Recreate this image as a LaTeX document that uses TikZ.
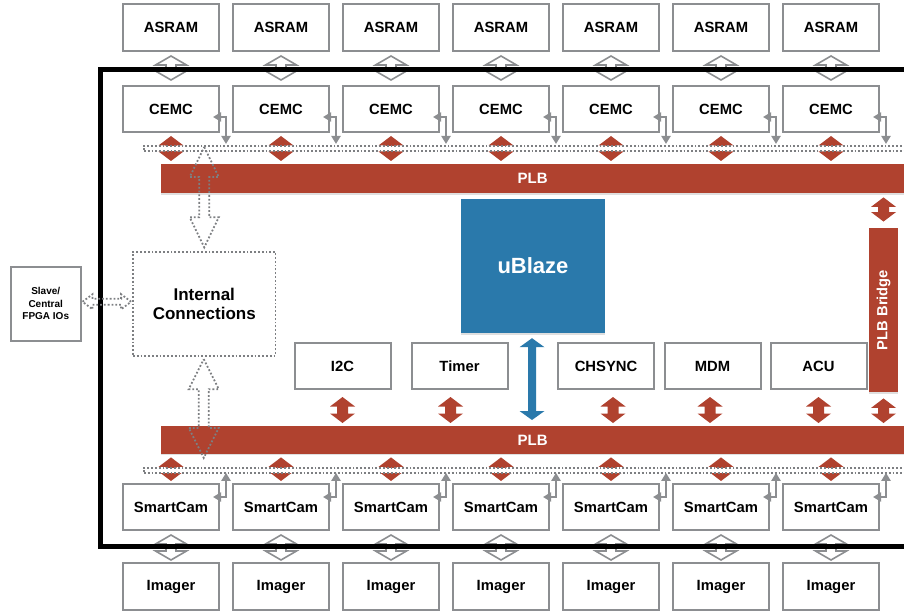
\documentclass[tikz,border=0pt]{standalone}
\usepackage{fontspec}
\setmainfont{Liberation Sans}
\usetikzlibrary{calc,arrows.meta,shadows}
\definecolor{plbred}{RGB}{176,66,47}
\definecolor{ublue}{RGB}{42,121,171}
\definecolor{bgray}{RGB}{140,142,145}
\definecolor{dgray}{RGB}{125,127,130}
\tikzset{
  box/.style={draw=bgray, line width=2pt, fill=white, minimum width=96pt, minimum height=46pt, inner sep=0pt, font=\fontsize{14.8pt}{17pt}\selectfont\bfseries},
  redarr/.style={fill=plbred},
  bluearr/.style={fill=ublue},
  hollowarr/.style={draw=bgray, line width=1.6pt, fill=white, line join=miter},
  dotarr/.style={draw=dgray, line width=1.8pt, dash pattern=on 1.8pt off 2pt},
  dotbox/.style={draw=dgray, line width=1.8pt, dash pattern=on 1.8pt off 2pt, fill=white, inner sep=0pt},
  bus/.style={draw=dgray, line width=1.8pt, dash pattern=on 1.8pt off 2pt, fill=white, inner sep=0pt},
  bar/.style={fill=plbred, draw=none, inner sep=0pt, text=white, font=\fontsize{15pt}{17pt}\selectfont\bfseries, drop shadow={shadow xshift=0pt, shadow yshift=-1.5pt, opacity=0.25}},
  elbow/.style={draw=bgray, line width=2pt, {Triangle[width=9pt,length=8pt]}-{Triangle[width=9pt,length=8pt]}},
}
% vertical double arrow: style, top tip, bottom tip, half shaft, half head, head length
\newcommand\myvarrow[6]{%
  \path[#1] let \p1=(#2), \p2=(#3) in
    (\x1,\y1) -- (\x1+#5,\y1-#6) -- (\x1+#4,\y1-#6) -- (\x1+#4,\y2+#6) -- (\x1+#5,\y2+#6)
    -- (\x1,\y2) -- (\x1-#5,\y2+#6) -- (\x1-#4,\y2+#6) -- (\x1-#4,\y1-#6) -- (\x1-#5,\y1-#6) -- cycle;}
% horizontal double arrow: style, left tip, right tip, half shaft, half head, head length
\newcommand\myharrow[6]{%
  \path[#1] let \p1=(#2), \p2=(#3) in
    (\x1,\y1) -- (\x1+#6,\y1+#5) -- (\x1+#6,\y1+#4) -- (\x2-#6,\y1+#4) -- (\x2-#6,\y1+#5)
    -- (\x2,\y1) -- (\x2-#6,\y1-#5) -- (\x2-#6,\y1-#4) -- (\x1+#6,\y1-#4) -- (\x1+#6,\y1-#5) -- cycle;}
\begin{document}
\begin{tikzpicture}[x=1pt,y=-1pt]
\useasboundingbox (0,0) rectangle (904,612);

% rows of boxes
\foreach \x [count=\i] in {171,281,391,501,611,721,831}{
  \node[box, minimum height=47pt] (asram\i) at (\x,27.5) {ASRAM};
  \node[box] (cemc\i) at (\x,109) {CEMC};
  \node[box] (sc\i) at (\x,507) {SmartCam};
  \node[box, minimum height=47pt] (img\i) at (\x,586.5) {Imager};
}

% hollow arrows crossing the frame
\foreach \i in {1,...,7}{
  \myvarrow{hollowarr}{$(asram\i.south)+(0,4)$}{$(cemc\i.north)+(0,-5)$}{5pt}{15.5pt}{9pt}
  \myvarrow{hollowarr}{$(sc\i.south)+(0,4)$}{$(img\i.north)+(0,-2)$}{5pt}{15.5pt}{9pt}
}

% frame
\draw[line width=4.5pt] (100.5,69.5) rectangle (960,546.5);

% PLB bars
\node[bar, anchor=north west, minimum width=743pt, minimum height=29pt] (plbT) at (161,164) {PLB};
\node[bar, anchor=north west, minimum width=743pt, minimum height=27.5pt] (plbB) at (161,426) {PLB};

% red arrows to CEMC and SmartCam
\foreach \i in {1,...,7}{
  \myvarrow{redarr}{$(cemc\i.south)+(0,3)$}{$(cemc\i.south |- plbT.north)+(0,-3)$}{5.5pt}{12.5pt}{9.5pt}
  \myvarrow{redarr}{$(sc\i.north |- plbB.south)+(0,3.5)$}{$(sc\i.north)+(0,-2)$}{5.5pt}{12.5pt}{9.5pt}
}

% dotted buses
\node[bus, anchor=north west, minimum width=800pt, minimum height=5pt] (busT) at (143,145) {};
\node[bus, anchor=north west, minimum width=800pt, minimum height=5pt] (busB) at (143,467) {};

% elbow connectors
\foreach \i in {1,...,7}{
  \draw[elbow] ($(cemc\i.east)+(-7,8)$) -| ($(cemc\i.east |- busT.north)+(6,-1)$);
  \draw[elbow] ($(sc\i.east)+(-7,-10)$) -| ($(sc\i.east |- busB.south)+(6,-1)$);
}

% uBlaze
\node[fill=ublue, minimum width=144pt, minimum height=134pt, inner sep=0pt, text=white,
  font=\fontsize{22pt}{26pt}\selectfont\bfseries,
  drop shadow={shadow xshift=0pt, shadow yshift=-1.5pt, opacity=0.25}] (ublaze) at (533,266) {uBlaze};

% PLB Bridge
\node[fill=plbred, minimum width=29.5pt, minimum height=164.5pt, inner sep=0pt,
  drop shadow={shadow xshift=0pt, shadow yshift=-1.5pt, opacity=0.25}] (bridge) at (883.5,310) {};
\node[rotate=90, text=white, font=\fontsize{14.7pt}{17pt}\selectfont\bfseries] (bridgetxt) at (bridge.center) {PLB Bridge};
\myvarrow{redarr}{$(bridge.north |- plbT.south)+(0,4)$}{$(bridge.north)+(0,-6)$}{5.5pt}{12.5pt}{9.5pt}
\myvarrow{redarr}{$(bridge.south)+(0,6)$}{$(bridge.south |- plbB.north)+(0,-3)$}{5.5pt}{12.5pt}{9.5pt}

% peripherals
\node[box] (i2c) at (342.5,366) {I2C};
\node[box] (timer) at (459.5,366) {Timer};
\node[box] (chsync) at (606,366) {CHSYNC};
\node[box] (mdm) at (712.5,366) {MDM};
\node[box] (acu) at (818.5,366) {ACU};
\myvarrow{redarr}{$(i2c.south)+(0,7)$}{$(i2c.south |- plbB.north)+(0,-3)$}{5.5pt}{12.5pt}{9.5pt}
\myvarrow{redarr}{$(timer.south)+(-9,7)$}{$(timer.south |- plbB.north)+(-9,-3)$}{5.5pt}{12.5pt}{9.5pt}
\myvarrow{redarr}{$(chsync.south)+(7,7)$}{$(chsync.south |- plbB.north)+(7,-3)$}{5.5pt}{12.5pt}{9.5pt}
\myvarrow{redarr}{$(mdm.south)+(-2.5,7)$}{$(mdm.south |- plbB.north)+(-2.5,-3)$}{5.5pt}{12.5pt}{9.5pt}
\myvarrow{redarr}{$(acu.south)+(0,7)$}{$(acu.south |- plbB.north)+(0,-3)$}{5.5pt}{12.5pt}{9.5pt}

% blue arrow uBlaze <-> PLB
\myvarrow{bluearr}{$(ublaze.south)+(-1,5)$}{$(ublaze.south |- plbB.north)+(-1,-6)$}{4pt}{12.5pt}{9pt}

% Internal Connections and Slave
\node[dotbox, minimum width=142.5pt, minimum height=104pt, align=center,
  font=\fontsize{17pt}{19pt}\selectfont\bfseries] (ic) at (204.25,303.75) {Internal\\Connections};
\node[box, minimum width=69.5pt, minimum height=73.5pt, align=center,
  font=\fontsize{10pt}{12.5pt}\selectfont\bfseries] (slave) at (45.75,303.75) {Slave/\\Central\\FPGA IOs};

\myharrow{dotarr}{$(slave.east)+(1,-2)$}{$(ic.west)+(-1,-2)$}{3pt}{7.5pt}{10pt}
\myvarrow{dotarr}{$(ic.north |- busT.north)+(0,2)$}{$(ic.north)+(0,-3.5)$}{5pt}{14.5pt}{30pt}
\myvarrow{dotarr}{$(ic.south)+(-0.5,2.5)$}{$(ic.south |- plbB.south)+(-0.5,4)$}{5pt}{15pt}{30pt}
\end{tikzpicture}
\end{document}
